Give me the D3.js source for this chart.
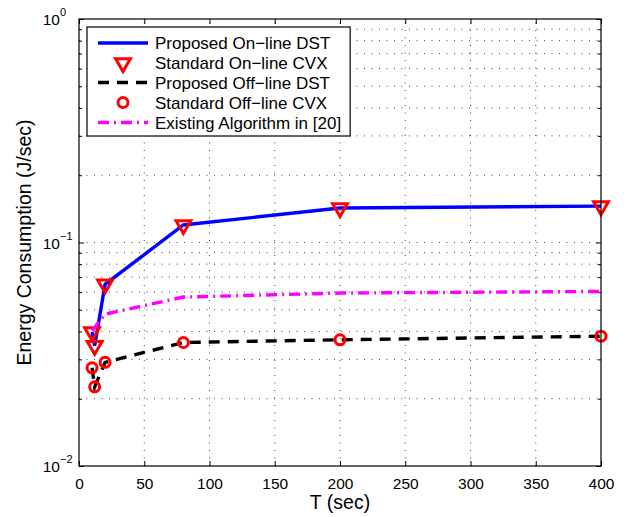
<!DOCTYPE html>
<html>
<head>
<meta charset="utf-8">
<script src="https://cdn.jsdelivr.net/npm/d3@7"></script>
<style>
  html, body { margin: 0; padding: 0; background: #fff; }
  svg { display: block; font-family: "Liberation Sans", Arial, Helvetica, sans-serif; }
</style>
</head>
<body>
<svg id="chart" width="632" height="517"></svg>
<script>
// ---- data ----
const T = [10, 12, 20, 80, 200, 400];
const onlineDST = [0.0398, 0.0345, 0.0650, 0.1198, 0.1427, 0.1455];
const onlineCVX = [0.0398, 0.0345, 0.0650, 0.1198, 0.1427, 0.1455];
const offlineDST = [0.0275, 0.0226, 0.0291, 0.0357, 0.0367, 0.0381];
const offlineCVX = [0.0275, 0.0226, 0.0291, 0.0357, 0.0367, 0.0381];
const T_existing = [10, 20, 80, 200, 400];
const existing = [0.0403, 0.0478, 0.0570, 0.0594, 0.0604];
const xTicks = [0, 50, 100, 150, 200, 250, 300, 350, 400];
const yMajor = [0.01, 0.1, 1];
const yExponents = ["\u22122", "\u22121", "0"];
const legendLabels = ["Proposed On\u2212line DST", "Standard On\u2212line CVX", "Proposed Off\u2212line DST", "Standard Off\u2212line CVX", "Existing Algorithm in [20]"];
const xLabel = "T (sec)";
const yLabel = "Energy Consumption (J/sec)";

// ---- layout ----
const L = 79, R = 601, TOP = 19, B = 466;
const svg = d3.select("#chart");
const x = d3.scaleLinear().domain([0, 400]).range([L, R]);
const y = d3.scaleLog().domain([0.01, 1]).range([B, TOP]);

// minor log ticks
const yMinor = [];
[0.01, 0.1].forEach(d => { for (let k = 2; k <= 9; k++) yMinor.push(d * k); });

const grid = svg.append("g");
const dot = "1,6.5";
xTicks.slice(1, -1).forEach(t => {
  grid.append("line").attr("x1", x(t)).attr("x2", x(t)).attr("y1", B).attr("y2", TOP)
    .attr("stroke", "#444").attr("stroke-width", 1).attr("stroke-dasharray", dot);
});
yMinor.concat([0.1]).forEach(v => {
  grid.append("line").attr("x1", L).attr("x2", R).attr("y1", y(v)).attr("y2", y(v))
    .attr("stroke", "#444").attr("stroke-width", 1).attr("stroke-dasharray", dot);
});

// axes with d3 axes (ticks inward)
const axG = svg.append("g");
const xb = d3.axisBottom(x).tickValues(xTicks).tickSize(-5).tickFormat(d => d).tickPadding(12);
const xt = d3.axisTop(x).tickValues(xTicks).tickSize(-5).tickFormat("");
const yl = d3.axisLeft(y).tickValues(yMajor).tickSize(-5).tickFormat("");
const yr = d3.axisRight(y).tickValues(yMajor).tickSize(-5).tickFormat("");
const ylm = d3.axisLeft(y).tickValues(yMinor).tickSize(-3).tickFormat("");
const yrm = d3.axisRight(y).tickValues(yMinor).tickSize(-3).tickFormat("");
function styleAxis(g) {
  g.select(".domain").remove();
  g.selectAll("line").attr("stroke", "#000").attr("stroke-width", 1);
  g.selectAll("text").attr("font-family", "Liberation Sans, Arial, sans-serif").attr("font-size", 15.5).attr("fill", "#000");
}
axG.append("g").attr("transform", `translate(0,${B})`).call(xb).call(styleAxis);
axG.append("g").attr("transform", `translate(0,${TOP})`).call(xt).call(styleAxis);
axG.append("g").attr("transform", `translate(${L},0)`).call(yl).call(styleAxis);
axG.append("g").attr("transform", `translate(${R},0)`).call(yr).call(styleAxis);
axG.append("g").attr("transform", `translate(${L},0)`).call(ylm).call(styleAxis);
axG.append("g").attr("transform", `translate(${R},0)`).call(yrm).call(styleAxis);

// y tick labels 10^k
yMajor.forEach((v, i) => {
  svg.append("text").attr("x", 60).attr("y", y(v) + 6)
    .attr("text-anchor", "end").attr("font-size", 15.5).attr("fill", "#000").text("10");
  svg.append("text").attr("x", 60).attr("y", y(v) - 3)
    .attr("text-anchor", "start").attr("font-size", 11).attr("fill", "#000").text(yExponents[i]);
});

// axis labels
svg.append("text").attr("x", (L + R) / 2).attr("y", 509).attr("text-anchor", "middle")
  .attr("font-size", 19.5).attr("fill", "#000").text(xLabel);
svg.append("text").attr("transform", `translate(31,${(TOP + B) / 2}) rotate(-90)`)
  .attr("text-anchor", "middle").attr("font-size", 19.5).attr("fill", "#000").text(yLabel);

// ---- series ----
const line = d3.line().x(d => x(d[0])).y(d => y(d[1]));
const plot = svg.append("g");
const tri = d3.symbol().type(d3.symbolTriangle).size(95);
function drawTri(g, cx, cy) {
  g.append("path").attr("d", tri()).attr("transform", `translate(${cx},${cy}) rotate(180)`)
    .attr("fill", "none").attr("stroke", "#ff0000").attr("stroke-width", 3).attr("stroke-linejoin", "miter");
}
function drawCirc(g, cx, cy) {
  g.append("circle").attr("cx", cx).attr("cy", cy).attr("r", 5)
    .attr("fill", "none").attr("stroke", "#ff0000").attr("stroke-width", 3);
}
plot.append("path").attr("d", line(T.map((t, i) => [t, onlineDST[i]])))
  .attr("fill", "none").attr("stroke", "#0000ff").attr("stroke-width", 3.4);
T.forEach((t, i) => drawTri(plot, x(t), y(onlineCVX[i])));
plot.append("path").attr("d", line(T.map((t, i) => [t, offlineDST[i]])))
  .attr("fill", "none").attr("stroke", "#000").attr("stroke-width", 3.4).attr("stroke-dasharray", "11,8");
T.forEach((t, i) => drawCirc(plot, x(t), y(offlineCVX[i])));
plot.append("path").attr("d", line(T_existing.map((t, i) => [t, existing[i]])))
  .attr("fill", "none").attr("stroke", "#ff00ff").attr("stroke-width", 3.4).attr("stroke-dasharray", "11,5,2,5");

// axes box
svg.append("rect").attr("x", L).attr("y", TOP).attr("width", R - L).attr("height", B - TOP)
  .attr("fill", "none").attr("stroke", "#000").attr("stroke-width", 1.2);

// ---- legend ----
const lg = svg.append("g");
const lx = 87, ly = 27, lh = 109;
const box = lg.append("rect").attr("x", lx).attr("y", ly).attr("height", lh)
  .attr("fill", "#fff").attr("stroke", "#000").attr("stroke-width", 1.2);
const rows = [43, 63, 82.5, 102.5, 122.5];
const s1 = 98, s2 = 148, sc = 123, tx = 155;
let maxW = 0;
legendLabels.forEach((lab, i) => {
  const ry = rows[i];
  if (i === 0) lg.append("line").attr("x1", s1).attr("x2", s2).attr("y1", ry).attr("y2", ry).attr("stroke", "#0000ff").attr("stroke-width", 3.4);
  if (i === 1) drawTri(lg, sc, ry);
  if (i === 2) lg.append("line").attr("x1", s1).attr("x2", s2).attr("y1", ry).attr("y2", ry).attr("stroke", "#000").attr("stroke-width", 3.4).attr("stroke-dasharray", "11,8");
  if (i === 3) drawCirc(lg, sc, ry);
  if (i === 4) lg.append("line").attr("x1", s1).attr("x2", s2).attr("y1", ry).attr("y2", ry).attr("stroke", "#ff00ff").attr("stroke-width", 3.4).attr("stroke-dasharray", "11,5,2,5");
  const t = lg.append("text").attr("x", tx).attr("y", ry + 6).attr("font-size", 17).attr("fill", "#000").text(lab);
  maxW = Math.max(maxW, t.node().getComputedTextLength());
});
box.attr("width", tx + maxW + 9 - lx);
</script>
</body>
</html>
